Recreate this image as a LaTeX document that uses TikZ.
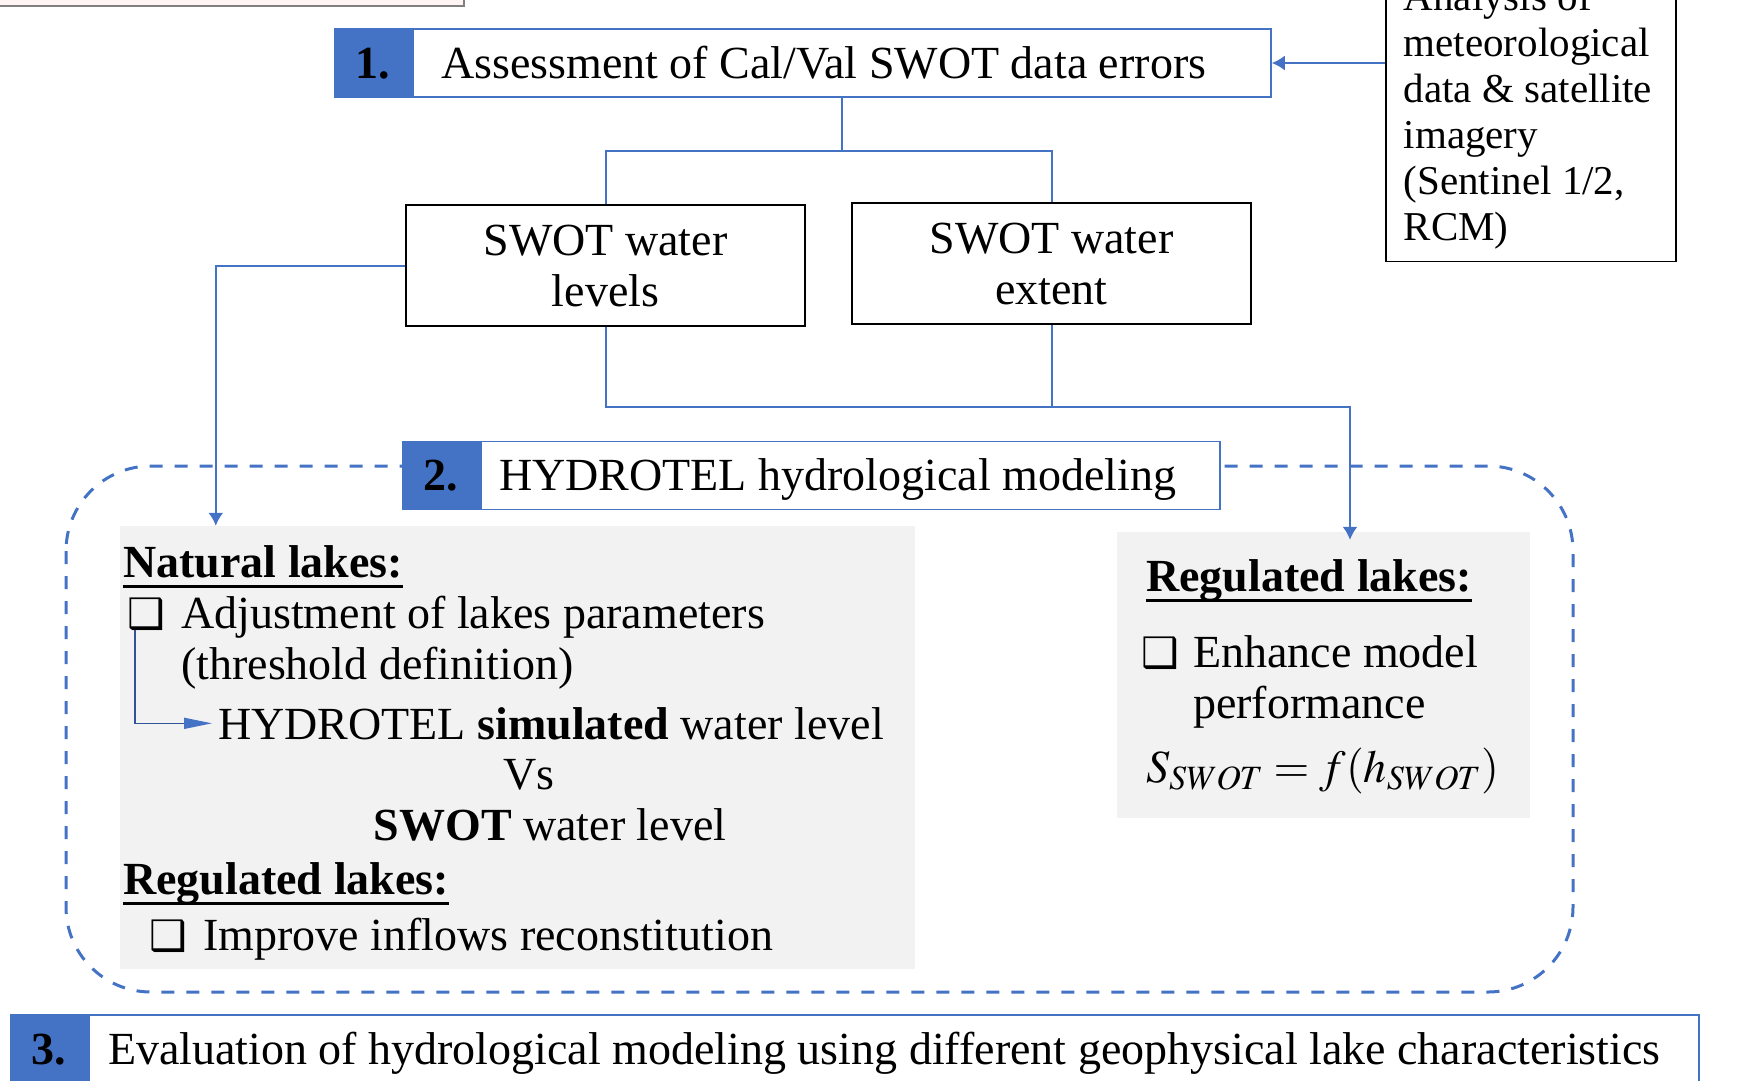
\documentclass[tikz,border=0pt]{standalone}
\usepackage{mathptmx}
\usepackage{fontspec}
\setmainfont{Liberation Serif}
\newfontfamily\symbfont{DejaVu Sans}
\usetikzlibrary{positioning,arrows.meta}
\definecolor{boxblue}{HTML}{4472C4}
\definecolor{linkblue}{HTML}{2F5597}
\definecolor{panelgray}{HTML}{F2F2F2}
\newsavebox{\headbox}
\newcommand{\checkbx}{{\symbfont\fontsize{42}{46}\selectfont ❑}}
\newcommand{\headline}[1]{\sbox{\headbox}{\textbf{#1}}\rlap{\rule[-11pt]{\wd\headbox}{3.5pt}}\usebox{\headbox}}

\begin{document}
\begin{tikzpicture}[x=1pt, y=-1pt,
    font=\fontsize{46}{51}\selectfont,
    every node/.style={inner sep=0pt},
    conn/.style={boxblue, line width=2pt},
    arr/.style={-{Latex[length=13pt,width=15pt]}},
    numbox/.style={fill=boxblue, draw=boxblue, line width=1.5pt, minimum width=77pt, minimum height=68pt,
        font=\fontsize{46}{51}\selectfont\bfseries, text height=36pt, text depth=6pt},
    stepbox/.style={draw=boxblue, fill=white, line width=1.5pt, minimum height=68pt, align=left,
        text height=36pt, text depth=6pt, execute at begin node={\spaceskip=0pt\relax}},
    swotbox/.style={draw=black, line width=1.5pt, minimum width=399pt, minimum height=121pt, align=center},
    panel/.style={fill=panelgray},
    txt/.style={anchor=base west}]
    \useasboundingbox (0,0) rectangle (1739,1080);
    \draw[gray, line width=1.5pt, fill=red!4] (-10,-60) rectangle (464,6);

    \node[stepbox, text width=802pt, inner xsep=28pt] (t1) at (842,63) {Assessment of Cal/Val SWOT data errors};
    \node[numbox, left=0pt of t1] (n1) {1.};
    \node[draw=black, line width=1.5pt, anchor=south west, text width=254pt, inner xsep=18pt, inner ysep=12pt,
        align=left, font=\fontsize{41}{46}\selectfont, execute at begin node={\spaceskip=0pt\relax}] (ana) at (1385,262)
        {Analysis of\\meteorological\\data \& satellite\\imagery\\(Sentinel 1/2,\\RCM)};

    \node[swotbox] (levels) at (605.5,265.5) {SWOT water\\levels};
    \node[swotbox] (extent) at (1051.5,263.5) {SWOT water\\extent};

    \draw[boxblue, line width=3pt, dash pattern=on 13pt off 12pt, rounded corners=85pt] (66,466) rectangle (1573,992);
    \node[panel, minimum width=795pt, minimum height=443pt] (natpanel) at (517.5,747.5) {};
    \node[panel, minimum width=413pt, minimum height=286pt] (regpanel) at (1323.5,675) {};

    \node[stepbox, text width=703pt, inner xsep=18pt] (t2) at (850.5,475.5) {HYDROTEL hydrological modeling};
    \node[numbox, left=0pt of t2] (n2) {2.};

    \node[txt] (nathead) at (123,577) {\headline{Natural lakes:}};
    \node[txt] (chk1) at (127,628) {\checkbx};
    \node[txt] (adj) at (181,628) {Adjustment of lakes parameters};
    \node[txt] (thr) at (181,679) {(threshold definition)};
    \node[txt] (sim) at (218,739) {HYDROTEL \textbf{simulated} water level};
    \node[anchor=base] (vs) at (529,789) {Vs};
    \node[anchor=base] (swotlvl) at (550,840) {\textbf{SWOT} water level};
    \node[txt] (reghead) at (123,894) {\headline{Regulated lakes:}};
    \node[txt] (chk2) at (149,950) {\checkbx};
    \node[txt] (inflow) at (203,950) {Improve inflows reconstitution};

    \node[txt] (reghead2) at (1146,591) {\headline{Regulated lakes:}};
    \node[txt] (chk3) at (1141,667) {\checkbx};
    \node[txt] (enh) at (1193,667) {Enhance model};
    \node[txt] (perf) at (1193,718) {performance};
    \node[txt] (eqn) at (1146,782) {$S_{SWOT} = f(h_{SWOT})$};

    \node[stepbox, text width=1572pt, inner xsep=19pt] (t3) at (894,1049) {Evaluation of hydrological modeling using different geophysical lake characteristics};
    \node[numbox, left=0pt of t3] (n3) {3.};

    \coordinate (split) at (t1.south |- 0,151);
    \coordinate (bend) at (1350,407);
    \draw[conn, arr] (ana.west |- t1.east) -- (t1.east);
    \draw[conn] (t1.south) -- (split);
    \draw[conn] (levels.north) |- (split) -| (extent.north);
    \draw[conn, arr] (levels.west) -| ([xshift=96pt]natpanel.north west);
    \draw[conn, arr, shorten >=-8pt] (levels.south) |- (bend) -- (bend |- regpanel.north);
    \draw[conn] (extent.south) -- (extent.south |- bend);
    \draw[linkblue, line width=1.5pt, shorten >=6pt, -{Triangle[length=28pt,width=11pt,color=boxblue]}]
        ([xshift=8pt]chk1.south west) |- (sim.west);
\end{tikzpicture}
\end{document}
